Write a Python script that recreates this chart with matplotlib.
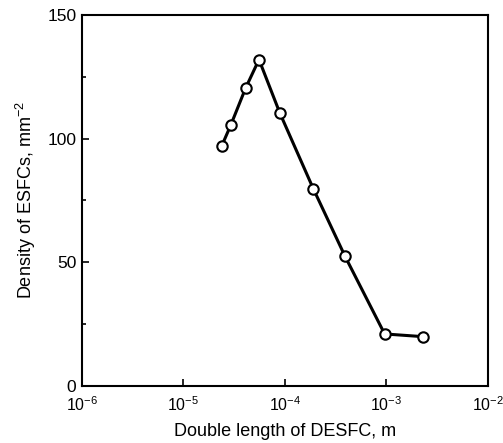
import matplotlib
matplotlib.use('Agg')
import matplotlib.pyplot as plt
from matplotlib.ticker import LogLocator, NullLocator, MultipleLocator

# Data
length_m = [2.38e-5, 2.94e-5, 4.1e-5, 5.55e-5, 8.9e-5, 1.9e-4, 3.9e-4, 9.6e-4, 2.3e-3]
density = [97.0, 105.7, 120.5, 132.0, 110.4, 79.8, 52.5, 21.0, 19.9]

plt.rcParams['font.family'] = ['Liberation Sans', 'DejaVu Sans']
plt.rcParams['mathtext.fontset'] = 'custom'
plt.rcParams['mathtext.rm'] = 'Liberation Sans'

fig = plt.figure(figsize=(5.03, 4.43), dpi=100)
ax = fig.add_axes([0.163, 0.129, 0.807, 0.837])

ax.plot(length_m, density, color='black', linewidth=2.2, marker='o', markersize=7.5,
        markerfacecolor='white', markeredgecolor='black', markeredgewidth=1.5)

ax.set_xscale('log')
ax.set_xlim(1e-6, 1e-2)
ax.set_ylim(0, 150)
ax.xaxis.set_major_locator(LogLocator(base=10, numticks=10))
ax.xaxis.set_minor_locator(NullLocator())
ax.yaxis.set_major_locator(MultipleLocator(50))
ax.yaxis.set_minor_locator(MultipleLocator(25))

ax.tick_params(which='major', direction='in', length=5, width=1.2)
ax.tick_params(which='minor', direction='in', length=3, width=1.2)
ax.tick_params(axis='x', labelsize=11.5, pad=7)
ax.tick_params(axis='y', labelsize=12.5, pad=4)
for s in ax.spines.values():
    s.set_linewidth(1.5)

ax.set_xlabel('Double length of DESFC, m', fontsize=13, labelpad=6)
ax.set_ylabel('Density of ESFCs, mm$^{-2}$', fontsize=13, labelpad=7)

fig.savefig('out.png', dpi=100)
